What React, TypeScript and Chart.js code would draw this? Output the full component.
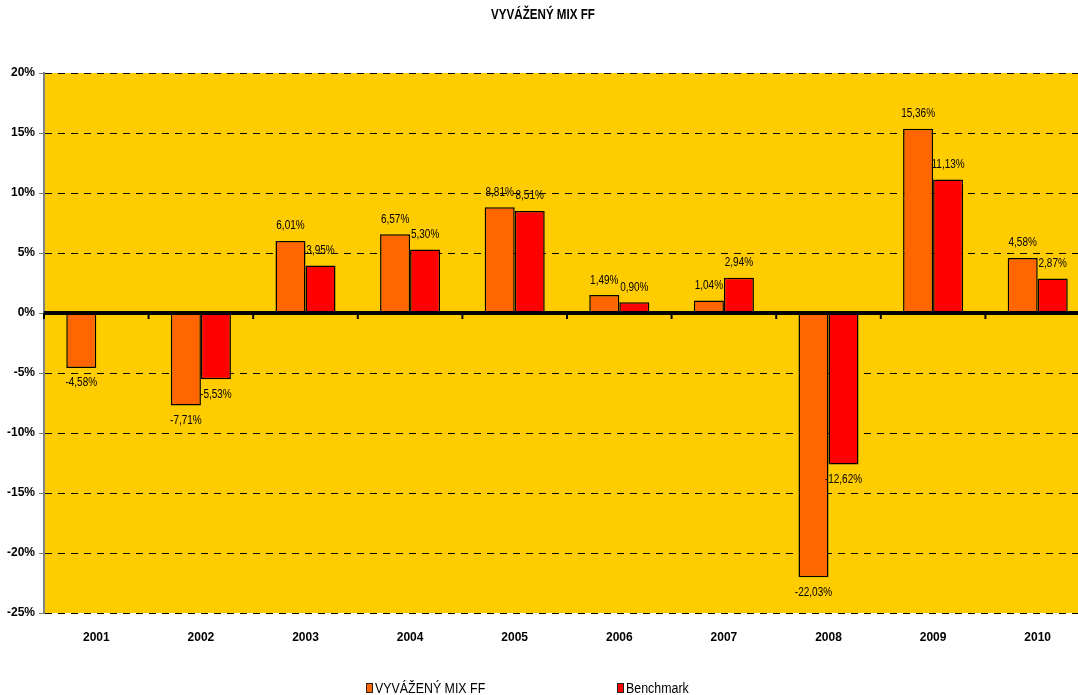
import React, { useEffect, useRef } from "react";
import { Chart, registerables } from "chart.js";

Chart.register(...registerables);

const TITLE = "VYVÁŽENÝ MIX FF";
const categories = ["2001", "2002", "2003", "2004", "2005", "2006", "2007", "2008", "2009", "2010"];
const fundLabel = "VYVÁŽENÝ MIX FF";
const fundValues = [-4.58, -7.71, 6.01, 6.57, 8.81, 1.49, 1.04, -22.03, 15.36, 4.58];
const benchLabel = "Benchmark";
const benchValues = [null, -5.53, 3.95, 5.3, 8.51, 0.9, 2.94, -12.62, 11.13, 2.87];
const yMin = -25;
const yMax = 20;
const yStep = 5;

const FONT = "'Liberation Sans', Arial, sans-serif";
const NARROW = 0.8;
const ORANGE = "#FF6600";
const RED = "#FF0000";
const PLOT_BG = "#FFCC00";

const fmt = (v: number) => v.toFixed(2).replace(".", ",") + "%";

function narrowText(ctx: any, text: string, x: number, y: number, align: "left" | "center") {
  ctx.save();
  ctx.translate(x, y);
  ctx.scale(NARROW, 1);
  ctx.textAlign = align;
  ctx.textBaseline = "middle";
  ctx.fillText(text, 0, 0);
  ctx.restore();
}

const bgPlugin = {
  id: "bgPlugin",
  beforeDraw(chart: any) {
    const { ctx, chartArea, width, height } = chart;
    ctx.save();
    ctx.fillStyle = "#ffffff";
    ctx.fillRect(0, 0, width, height);
    ctx.fillStyle = PLOT_BG;
    ctx.fillRect(chartArea.left, chartArea.top, chartArea.right - chartArea.left, chartArea.bottom - chartArea.top);
    ctx.restore();
  },
};

const zeroAxisPlugin = {
  id: "zeroAxisPlugin",
  afterDatasetsDraw(chart: any) {
    const { ctx, chartArea, scales } = chart;
    const y0 = scales.y.getPixelForValue(0);
    const xs = scales.x;
    const n = categories.length;
    const w = (chartArea.right - chartArea.left) / n;
    ctx.save();
    ctx.strokeStyle = "#000";
    ctx.lineWidth = 2;
    for (let i = 0; i <= n; i++) {
      const x = xs.getPixelForValue(0) - w / 2 + i * w;
      ctx.beginPath();
      ctx.moveTo(x, y0);
      ctx.lineTo(x, y0 + 6);
      ctx.stroke();
    }
    ctx.lineWidth = 4;
    ctx.beginPath();
    ctx.moveTo(chartArea.left, y0);
    ctx.lineTo(chartArea.right, y0);
    ctx.stroke();
    ctx.restore();
  },
};

const textPlugin = {
  id: "textPlugin",
  afterDraw(chart: any) {
    const { ctx } = chart;
    ctx.save();
    ctx.fillStyle = "#000";
    // title
    ctx.font = `bold 14.5px ${FONT}`;
    narrowText(ctx, TITLE, 543, 14.5, "center");
    // data labels
    ctx.font = `12.5px ${FONT}`;
    chart.data.datasets.forEach((ds: any, di: number) => {
      const meta = chart.getDatasetMeta(di);
      meta.data.forEach((el: any, i: number) => {
        const v = ds.data[i];
        if (v === null || v === undefined) return;
        const y = v >= 0 ? el.y - 15 : el.y + 15;
        narrowText(ctx, fmt(v), el.x, y, "center");
      });
    });
    // legend
    const pos = [366, 617];
    ctx.font = `15.5px ${FONT}`;
    chart.data.datasets.forEach((ds: any, i: number) => {
      const x = pos[i];
      ctx.fillStyle = ds.backgroundColor;
      ctx.fillRect(x, 683, 7, 10);
      ctx.strokeStyle = "#222";
      ctx.lineWidth = 1;
      ctx.strokeRect(x + 0.5, 683.5, 6, 9);
      ctx.fillStyle = "#000";
      narrowText(ctx, ds.label, x + 9, 688.5, "left");
    });
    ctx.restore();
  },
};

export default function App() {
  const ref = useRef<HTMLCanvasElement | null>(null);
  useEffect(() => {
    if (!ref.current) return;
    const chart = new Chart(ref.current, {
      type: "bar",
      data: {
        labels: categories,
        datasets: [
          {
            label: fundLabel,
            data: fundValues,
            backgroundColor: ORANGE,
            borderColor: "#000",
            borderWidth: 1.5,
            categoryPercentage: 0.574,
            barPercentage: 1,
          },
          {
            label: benchLabel,
            data: benchValues as any,
            backgroundColor: RED,
            borderColor: "#000",
            borderWidth: 1.5,
            categoryPercentage: 0.574,
            barPercentage: 1,
          },
        ],
      },
      options: {
        responsive: false,
        animation: false,
        layout: { padding: { top: 73, right: 0, bottom: 0, left: 0 } },
        plugins: {
          legend: { display: false },
          tooltip: { enabled: false },
          title: { display: false },
        },
        scales: {
          x: {
            grid: { display: false, drawTicks: false },
            border: { display: false },
            ticks: {
              color: "#000",
              padding: 17,
              font: { family: FONT, size: 12, weight: "bold" },
            },
            afterFit: (s: any) => {
              s.height = 82;
            },
          },
          y: {
            min: yMin,
            max: yMax,
            ticks: {
              stepSize: yStep,
              color: "#000",
              padding: 4,
              font: { family: FONT, size: 12, weight: "bold" },
              callback: (v: any) => `${v}%`,
            },
            grid: {
              color: "#000",
              lineWidth: 1,
              tickColor: "#808080",
              tickLength: 5,
              tickBorderDash: [],
            },
            border: { display: true, color: "#808080", width: 2, dash: [7, 6] },
            afterFit: (s: any) => {
              s.width = 44;
            },
          },
        },
      },
      plugins: [bgPlugin, zeroAxisPlugin, textPlugin],
    });
    return () => chart.destroy();
  }, []);
  return (
    <div style={{ position: "fixed", left: 0, top: 0, width: 1078, height: 695, overflow: "hidden", background: "#fff" }}>
      <canvas ref={ref} width={1090} height={695} style={{ width: 1090, height: 695, display: "block" }} />
    </div>
  );
}
